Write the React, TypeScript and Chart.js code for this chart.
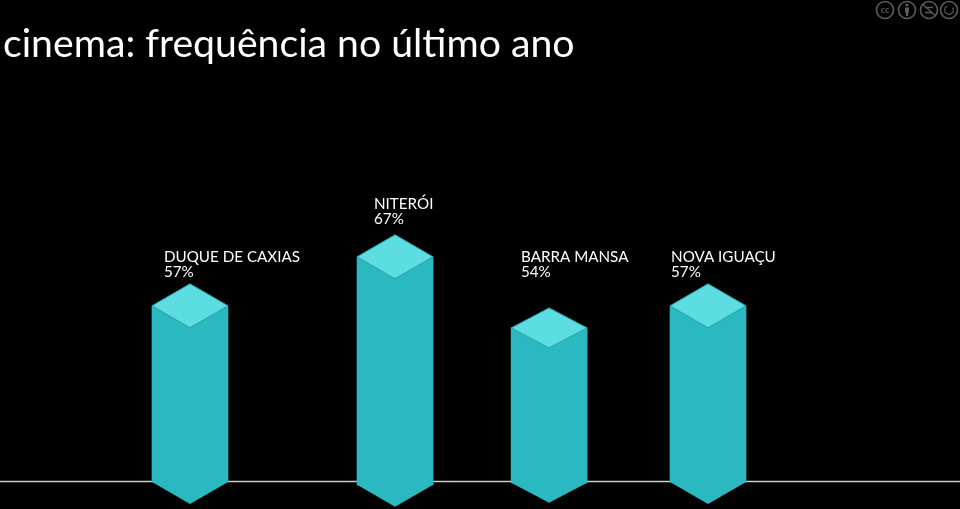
import React, { useEffect, useRef } from "react";
import { Chart, registerables } from "chart.js";

Chart.register(...registerables);

const cities = ["DUQUE DE CAXIAS", "NITERÓI", "BARRA MANSA", "NOVA IGUAÇU"];
const percentLabels = ["57%", "67%", "54%", "57%"];
// Where each drawn column starts and ends on the y axis.
// the source's columns are hand-placed, so the third one sits lower than its "54%" label.
const barTops = [57, 67, 52.5, 57];
const barBases = [21.1, 20.5, 20.9, 21.1];
const barPositions = [19.79, 41.15, 57.2, 73.75];
const labelPositions = [17.08, 38.96, 54.27, 69.9];
const labelHeights = [65.9, 76.7, 65.9, 65.9];
const baselineValue = 21.2;

const capDepths = [22, 22, 20, 22];
const SIDE = "#2bb9c1";
const CAP = "#5cdde2";
const EDGE = "#2a9fa8";
const FONT = "Lato";

const iso = {
  id: "iso",
  afterDatasetsDraw(chart: any) {
    const ctx = chart.ctx;
    const y = chart.scales.y;
    const x = chart.scales.x;
    const bars = chart.getDatasetMeta(1).data;
    bars.forEach((b: any, i: number) => {
      const half = b.width / 2;
      const d = capDepths[i];
      ctx.save();
      ctx.fillStyle = SIDE;
      ctx.beginPath();
      ctx.moveTo(b.x - half, b.base);
      ctx.lineTo(b.x, b.base + d);
      ctx.lineTo(b.x + half, b.base);
      ctx.closePath();
      ctx.fill();
      ctx.fillStyle = CAP;
      ctx.strokeStyle = EDGE;
      ctx.lineWidth = 1;
      ctx.beginPath();
      ctx.moveTo(b.x - half, b.y);
      ctx.lineTo(b.x, b.y - d);
      ctx.lineTo(b.x + half, b.y);
      ctx.lineTo(b.x, b.y + d);
      ctx.closePath();
      ctx.fill();
      ctx.stroke();
      ctx.restore();

      ctx.save();
      ctx.fillStyle = "#ffffff";
      ctx.font = `400 15.2px ${FONT}`;
      ctx.textAlign = "left";
      ctx.textBaseline = "alphabetic";
      const lx = x.getPixelForValue(labelPositions[i]);
      const ly = y.getPixelForValue(labelHeights[i]);
      ctx.fillText(cities[i], lx, ly);
      ctx.fillText(percentLabels[i], lx, ly + 15);
      ctx.restore();
    });

    // licence badges
    const centers = [885, 907, 929, 949];
    ctx.save();
    ctx.strokeStyle = "#5c5c5c";
    ctx.fillStyle = "#5c5c5c";
    ctx.lineWidth = 1.6;
    centers.forEach((cx) => {
      ctx.beginPath();
      ctx.arc(cx, 10, 8.5, 0, Math.PI * 2);
      ctx.stroke();
    });
    ctx.font = `700 9px ${FONT}`;
    ctx.textAlign = "center";
    ctx.textBaseline = "middle";
    ctx.fillText("cc", 885, 10);
    ctx.beginPath();
    ctx.arc(907, 5, 1.6, 0, Math.PI * 2);
    ctx.fill();
    ctx.fillRect(905, 7.5, 4, 5);
    ctx.fillRect(905.8, 12, 2.4, 4);
    ctx.lineWidth = 1.3;
    ctx.beginPath();
    ctx.moveTo(922.5, 4);
    ctx.lineTo(935.5, 16);
    ctx.moveTo(925, 7.5);
    ctx.lineTo(933, 7.5);
    ctx.moveTo(925, 12.5);
    ctx.lineTo(933, 12.5);
    ctx.stroke();
    ctx.beginPath();
    ctx.arc(949, 10, 4.3, -0.6, Math.PI * 1.35);
    ctx.stroke();
    ctx.restore();
  },
};

export default function App() {
  const ref = useRef<HTMLCanvasElement>(null);
  useEffect(() => {
    const c2d: any = ref.current!.getContext("2d");
    c2d.letterSpacing = "0.01px"; // keeps "ti" as two letters, as in the reference
    const chart = new Chart(ref.current!, {
      type: "bar",
      data: {
        datasets: [
          {
            type: "line",
            data: [
              { x: 0, y: baselineValue },
              { x: 100, y: baselineValue },
            ],
            borderColor: "#cfcfcf",
            borderWidth: 1.5,
            pointRadius: 0,
            clip: false,
            order: 2,
          },
          {
            type: "bar",
            data: barPositions.map((x, i) => ({ x, y: [barBases[i], barTops[i]] })),
            backgroundColor: SIDE,
            barThickness: 76,
            order: 1,
          },
        ],
      } as any,
      plugins: [iso],
      options: {
        responsive: false,
        animation: false,
        layout: { padding: { left: 3 } },
        plugins: {
          legend: { display: false },
          tooltip: { enabled: false },
          title: {
            display: true,
            text: "cinema: frequência no último ano",
            align: "start",
            color: "#ffffff",
            font: { family: FONT, size: 39.2, weight: "400", lineHeight: 1.18 },
            padding: { top: 21, bottom: 10 },
          },
        },
        scales: {
          x: { type: "linear", display: false, min: 0.3125, max: 100, offset: false },
          y: { type: "linear", display: false, min: 15.57, max: 103.6 },
        },
      },
    } as any);
    return () => chart.destroy();
  }, []);
  return (
    <div style={{ position: "fixed", inset: 0, background: "#000" }}>
      <canvas ref={ref} width={960} height={509} style={{ display: "block" }} />
    </div>
  );
}
